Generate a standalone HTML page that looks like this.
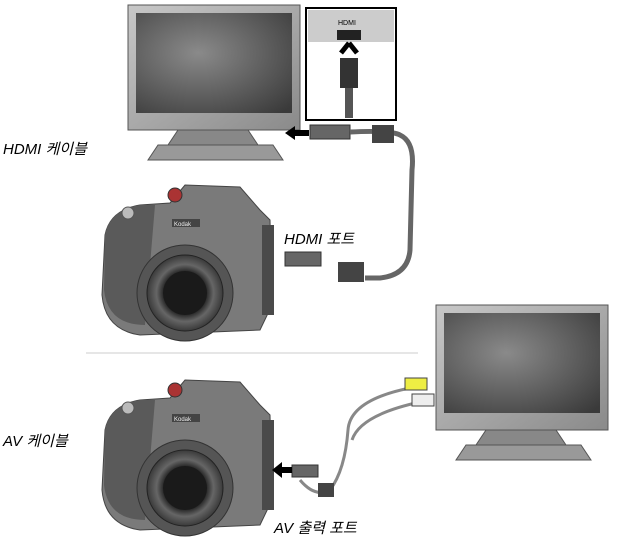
<!DOCTYPE html>
<html><head><meta charset="utf-8"><style>
body{margin:0;background:#fff;width:620px;height:545px;overflow:hidden}
svg{display:block}
text{font-family:"Liberation Sans","Noto Sans CJK KR",sans-serif;font-style:italic;font-size:15px;fill:#000}
</style></head><body>
<svg width="620" height="545" viewBox="0 0 620 545">
<defs>
<radialGradient id="scr" cx="0.4" cy="0.4" r="0.8"><stop offset="0" stop-color="#8a8a8a"/><stop offset="1" stop-color="#3a3a3a"/></radialGradient>
<linearGradient id="bez" x1="0" y1="0" x2="1" y2="1"><stop offset="0" stop-color="#c8c8c8"/><stop offset="1" stop-color="#8a8a8a"/></linearGradient>
<radialGradient id="lens" cx="0.5" cy="0.5" r="0.5"><stop offset="0" stop-color="#333"/><stop offset="0.5" stop-color="#111"/><stop offset="0.75" stop-color="#666"/><stop offset="1" stop-color="#3a3a3a"/></radialGradient>
<g id="cam">
<path d="M5,50 Q10,25 40,20 L70,18 L85,0 L140,2 L160,25 L170,35 L172,120 L160,145 L40,150 Q5,145 2,110 Z" fill="#7a7a7a" stroke="#444"/>
<path d="M5,50 Q10,25 40,20 L55,20 L45,140 Q8,140 4,105 Z" fill="#5a5a5a"/>
<rect x="162" y="40" width="12" height="90" fill="#4a4a4a"/>
<circle cx="28" cy="28" r="6" fill="#bbb" stroke="#555"/>
<circle cx="75" cy="10" r="7" fill="#a33" stroke="#333"/>
<rect x="72" y="34" width="28" height="8" fill="#444"/>
<text x="74" y="41" style="font-size:6px;fill:#eee;font-style:normal">Kodak</text>
<circle cx="85" cy="108" r="48" fill="#555" stroke="#333"/>
<circle cx="85" cy="108" r="38" fill="url(#lens)" stroke="#222"/>
<circle cx="85" cy="108" r="22" fill="#1a1a1a"/>
</g>
<g id="tv">
<rect x="0" y="0" width="172" height="125" fill="url(#bez)" stroke="#555"/>
<rect x="8" y="8" width="156" height="100" fill="url(#scr)"/>
<path d="M50,125 L120,125 L130,140 L40,140 Z" fill="#888" stroke="#555"/>
<path d="M30,140 L145,140 L155,155 L20,155 Z" fill="#999" stroke="#555"/>
</g>
</defs>
<use href="#tv" x="128" y="5"/>
<use href="#tv" x="436" y="305"/>
<rect x="306" y="8" width="90" height="112" fill="#fff" stroke="#000" stroke-width="2"/>
<rect x="308" y="10" width="86" height="32" fill="#ccc"/>
<text x="338" y="25" style="font-size:7px;font-style:normal">HDMI</text>
<rect x="337" y="30" width="24" height="10" fill="#222"/>
<path d="M349,43 L341,53 M349,43 L357,53" stroke="#000" stroke-width="5"/>
<rect x="340" y="58" width="18" height="30" fill="#333"/>
<rect x="345" y="88" width="8" height="30" fill="#555"/>
<path d="M285,133 l10,-7 v4 h14 v6 h-14 v4 z" fill="#000"/>
<rect x="310" y="125" width="40" height="14" fill="#666" stroke="#333"/>
<path d="M350,132 Q390,130 400,135 Q415,142 412,170 L410,250 Q408,275 380,278 L365,278" fill="none" stroke="#666" stroke-width="5"/>
<rect x="372" y="125" width="22" height="18" fill="#444"/>
<rect x="338" y="262" width="26" height="20" fill="#444"/>
<rect x="285" y="252" width="36" height="14" fill="#666" stroke="#333"/>
<use href="#cam" x="100" y="185"/>
<use href="#cam" x="100" y="380"/>
<line x1="86" y1="353" x2="418" y2="353" stroke="#ccc"/>
<text x="3" y="154">HDMI 케이블</text>
<text x="284" y="244">HDMI 포트</text>
<text x="3" y="446">AV 케이블</text>
<text x="274" y="533">AV 출력 포트</text>
<path d="M410,388 Q350,400 348,430 Q345,470 330,490 Q315,498 300,480" fill="none" stroke="#888" stroke-width="3"/>
<path d="M420,402 Q360,415 352,440" fill="none" stroke="#888" stroke-width="3"/>
<rect x="405" y="378" width="22" height="12" fill="#ee4" stroke="#444"/>
<rect x="412" y="394" width="22" height="12" fill="#eee" stroke="#444"/>
<rect x="318" y="483" width="16" height="14" fill="#444"/>
<rect x="292" y="465" width="26" height="12" fill="#666" stroke="#333"/>
<path d="M272,470 l10,-8 v5 h10 v6 h-10 v5 z" fill="#000"/>
</svg>
</body></html>
